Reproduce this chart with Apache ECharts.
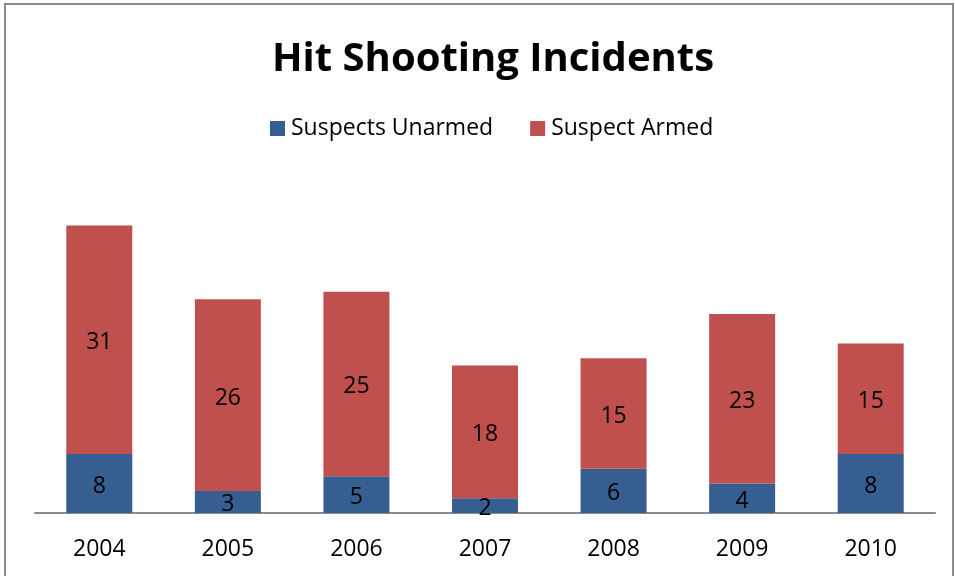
<!DOCTYPE html>
<html>
<head>
<meta charset="utf-8">
<script src="https://cdn.jsdelivr.net/npm/echarts@6/dist/echarts.min.js"></script>
<style>
  html, body { margin: 0; padding: 0; background: #fff; }
  #chart { width: 955px; height: 576px; }
</style>
</head>
<body>
<div id="chart"></div>
<script>
const years = ['2004', '2005', '2006', '2007', '2008', '2009', '2010'];
const unarmed = [8, 3, 5, 2, 6, 4, 8];
const armed = [31, 26, 25, 18, 15, 23, 15];

const chart = echarts.init(document.getElementById('chart'));
const font = '"Open Sans", "Noto Sans", sans-serif';

const option = {
  animation: false,
  title: {
    text: 'Hit Shooting Incidents',
    left: 267,
    top: 35,
    textStyle: { fontFamily: font, fontSize: 40, fontWeight: 'bold', color: '#000' },
  },
  legend: {
    data: ['Suspects Unarmed', 'Suspect Armed'],
    top: 117,
    left: 270,
    padding: 0,
    itemWidth: 15,
    itemHeight: 15,
    itemGap: 37,
    icon: 'rect',
    textStyle: { fontFamily: font, fontSize: 23, color: '#000', padding: [0, 0, 0, 1] },
  },
  graphic: [
    {
      type: 'polyline',
      shape: { points: [[5, 580], [5, 4], [953, 4], [953, 580]] },
      style: { stroke: '#8c8c8c', lineWidth: 2, fill: null },
    },
  ],
  grid: { left: 35, right: 20, top: 218, bottom: 63 },
  xAxis: {
    type: 'category',
    data: years,
    axisLine: { lineStyle: { color: '#8c8c8c', width: 2 } },
    axisTick: { show: false },
    axisLabel: { fontFamily: font, fontSize: 23, color: '#000', margin: 25 },
  },
  yAxis: {
    type: 'value',
    min: 0,
    max: 40,
    show: false,
    splitLine: { show: false },
  },
  series: [
    {
      name: 'Suspects Unarmed',
      type: 'bar',
      stack: 'total',
      barWidth: 66,
      data: unarmed,
      itemStyle: { color: '#375E91' },
      label: { show: true, position: 'inside', offset: [0, 3], fontFamily: font, fontSize: 23, color: '#000' },
    },
    {
      name: 'Suspect Armed',
      type: 'bar',
      stack: 'total',
      barWidth: 66,
      data: armed,
      itemStyle: { color: '#C0504D' },
      label: { show: true, position: 'inside', offset: [0, 3], fontFamily: font, fontSize: 23, color: '#000' },
    },
  ],
};
chart.setOption(option);
</script>
</body>
</html>
